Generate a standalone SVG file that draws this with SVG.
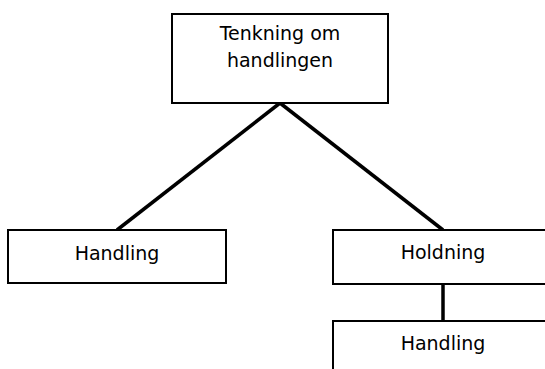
<svg xmlns="http://www.w3.org/2000/svg" width="545" height="369" viewBox="0 0 545 369">
<style>
.box{fill:#fff;stroke:#000;stroke-width:2}
.lbl{font-family:"DejaVu Sans",sans-serif;font-size:19px;fill:#000;text-anchor:middle}
.conn{stroke:#000;stroke-width:3.5;fill:none}
</style>
<rect width="545" height="369" fill="#fff"/>
<g id="connectors">
<line class="conn" x1="280" y1="103" x2="117" y2="230"/>
<line class="conn" x1="280" y1="103" x2="443" y2="230"/>
<line class="conn" x1="443" y1="284" x2="443" y2="321"/>
</g>
<g id="top">
<rect class="box" x="172" y="14" width="216" height="89"/>
<text class="lbl" x="280" y="40">Tenkning om</text>
<text class="lbl" x="280" y="67">handlingen</text>
</g>
<g id="handling1">
<rect class="box" x="8" y="230" width="218" height="53"/>
<text class="lbl" x="117" y="260">Handling</text>
</g>
<g id="holdning">
<rect class="box" x="333" y="230" width="220" height="54"/>
<text class="lbl" x="443" y="259">Holdning</text>
</g>
<g id="handling2">
<rect class="box" x="333" y="321" width="220" height="60"/>
<text class="lbl" x="443" y="350">Handling</text>
</g>
</svg>
